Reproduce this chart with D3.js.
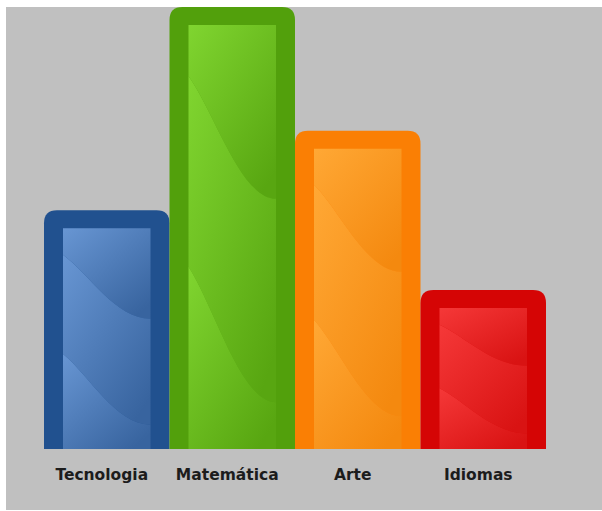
<!DOCTYPE html>
<html>
<head>
<meta charset="utf-8">
<script src="https://cdnjs.cloudflare.com/ajax/libs/d3/7.8.5/d3.min.js"></script>
<style>
  body { margin: 0; background: #ffffff; }
  svg { display: block; }
</style>
</head>
<body>
<svg id="chart"></svg>
<script>
const categories = ["Tecnologia", "Matemática", "Arte", "Idiomas"];
const values = [54, 100, 72, 36];
const borderColors = ["#21518f", "#52a00c", "#fa7f04", "#d50505"];
const lightColors = ["#6896d3", "#80d530", "#ffa835", "#f53838"];
const darkColors = ["#38649f", "#58a611", "#f4890f", "#d91313"];

const width = 602;
const height = 511;

const svg = d3.select("#chart")
              .attr("width", width)
              .attr("height", height);

svg.append("rect")
   .attr("x", 6)
   .attr("y", 7)
   .attr("width", width - 6)
   .attr("height", 503)
   .attr("fill", "#c0c0c0");

const xScale = d3.scaleBand().domain(categories).range([44, 546]).padding(0);
const yScale = d3.scaleLinear().domain([0, 100]).range([449, 7]);

const data = categories.map((c, i) => ({
    id: i, name: c, value: values[i],
    border: borderColors[i], light: lightColors[i], dark: darkColors[i]
}));

const defs = svg.append("defs");
data.forEach(d => {
    const g = defs.append("linearGradient")
                  .attr("id", "grad" + d.id)
                  .attr("x1", 0).attr("y1", 0)
                  .attr("x2", 0.8).attr("y2", 1);
    g.append("stop").attr("offset", "0%").attr("stop-color", d.light);
    g.append("stop").attr("offset", "100%").attr("stop-color", d.dark);
});

const border = 19;
const radius = 13;
const base = yScale(0);
// where the two swoosh curves meet the left and right inner edges (fraction of inner height)
const curves = [[0, 0], [0.12, 0.41], [0.57, 0.89], [1, 1]];

// outer bar shape, rounded on top only
function outerPath(d) {
    const x0 = xScale(d.name), x1 = x0 + xScale.bandwidth(), y0 = yScale(d.value);
    return `M${x0},${base} L${x0},${y0 + radius} Q${x0},${y0} ${x0 + radius},${y0}
            L${x1 - radius},${y0} Q${x1},${y0} ${x1},${y0 + radius} L${x1},${base} Z`;
}

// one band of the inner panel, between curve k and curve k+1
function band(d, k) {
    const x0 = xScale(d.name) + border, x1 = xScale(d.name) + xScale.bandwidth() - border;
    const top = yScale(d.value) + border - 1;
    const h = base - top, w = x1 - x0;
    const [fa, fb] = curves[k], [fc, fd] = curves[k + 1];
    const ya = top + fa * h, yb = top + fb * h;
    const yc = top + fc * h, yd = top + fd * h;
    return `M${x0},${ya} C${x0 + 0.3 * w},${ya + 0.3 * (yb - ya)} ${x0 + 0.6 * w},${yb} ${x1},${yb}
            L${x1},${yd} C${x0 + 0.6 * w},${yd} ${x0 + 0.3 * w},${yc + 0.3 * (yd - yc)} ${x0},${yc} Z`;
}

const bars = svg.append("g")
                .selectAll(".bar")
                .data(data, d => d.id)
                .enter()
                .append("g")
                .classed("bar", true);

bars.append("path")
    .attr("d", outerPath)
    .attr("fill", d => d.border);

[0, 1, 2].forEach(k => {
    bars.append("path")
        .attr("d", d => band(d, k))
        .attr("fill", d => `url(#grad${d.id})`);
});

svg.append("g")
   .selectAll(".label")
   .data(data)
   .enter()
   .append("text")
   .classed("label", true)
   .attr("x", d => xScale(d.name) + xScale.bandwidth() / 2 - 5)
   .attr("y", 480)
   .attr("text-anchor", "middle")
   .style("font-family", "'DejaVu Sans', sans-serif")
   .style("font-weight", "bold")
   .style("font-size", "15.5px")
   .style("fill", "#1c1c1c")
   .text(d => d.name);
</script>
</body>
</html>
